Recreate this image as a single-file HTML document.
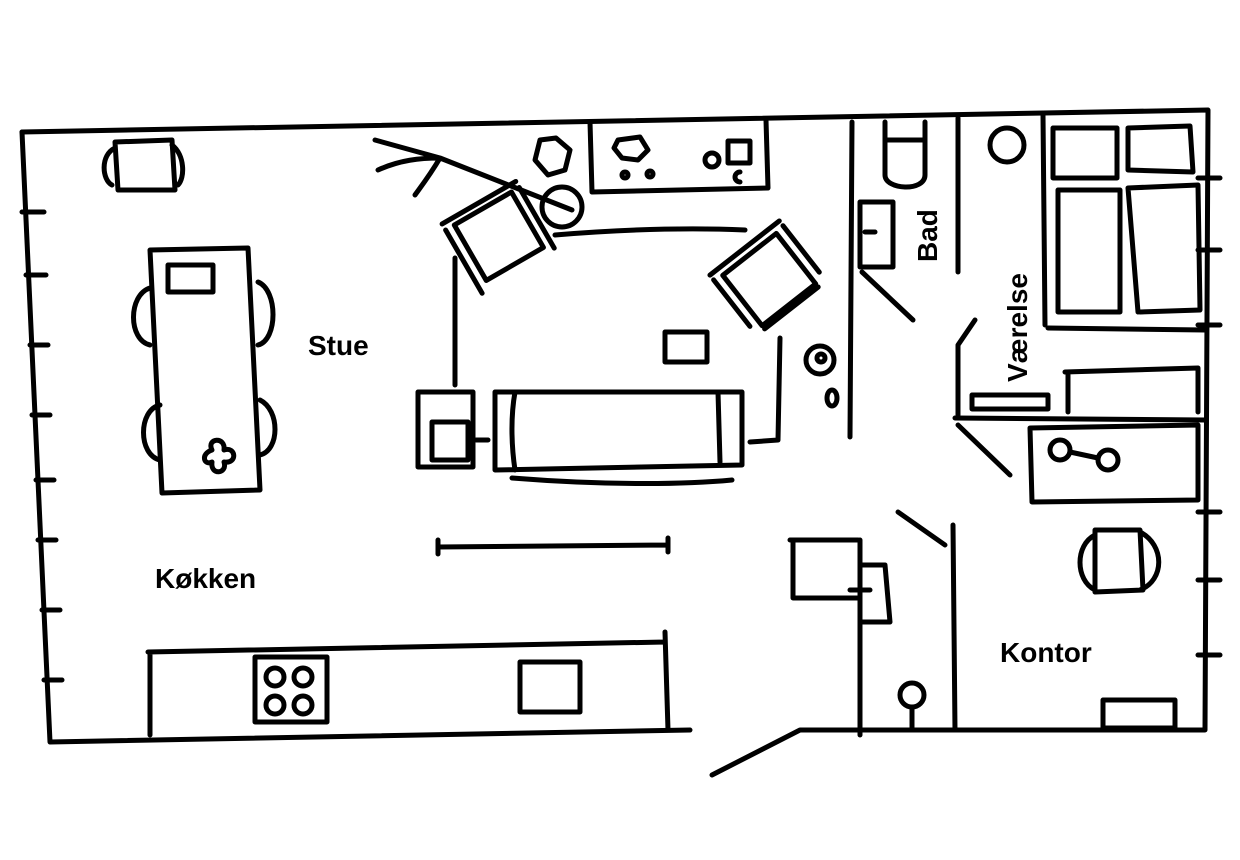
<!DOCTYPE html>
<html><head><meta charset="utf-8"><style>
body{margin:0;background:#fff}
svg{display:block}
text{font-family:"Liberation Sans",sans-serif;font-weight:bold;font-size:28px;fill:#000}
</style></head><body>
<svg width="1240" height="860" viewBox="0 0 1240 860" xmlns="http://www.w3.org/2000/svg">
<g fill="none" stroke="#000" stroke-width="5" stroke-linecap="round" stroke-linejoin="round">
<path d="M22 132 L1208 110 L1205 730 L800 730 L712 775"/>
<path d="M22 132 L50 742 L690 730"/>
<path d="M22 212h22M26 275h20M30 345h18M32 415h18M36 480h18M38 540h18M42 610h18M44 680h18"/>
<path d="M1198 178h22M1198 250h22M1198 325h22M1198 512h22M1198 580h22M1198 655h22"/>
<path d="M852 122 L850 437"/>
<path d="M860 540 L860 735"/>
<path d="M958 118 L958 272"/>
<path d="M975 320 L958 345 L958 415 M955 418 L1205 420"/>
<path d="M958 425 L1010 475"/>
<path d="M953 525 L955 730"/>
<path d="M898 512 L945 545"/>
<path d="M862 272 L913 320"/>
<path d="M148 652 L665 642 M665 632 L668 730 M150 652 L150 735"/>
<rect x="255" y="657" width="72" height="65"/>
<circle cx="275" cy="677" r="9"/><circle cx="303" cy="677" r="9"/><circle cx="275" cy="705" r="9"/><circle cx="303" cy="705" r="9"/>
<rect x="520" y="662" width="60" height="50"/>
<path d="M150 250 L248 248 L260 490 L162 493 Z"/>
<rect x="168" y="265" width="45" height="27"/>
<path d="M150 288 C128 295 128 340 150 345 M258 282 C278 290 278 340 258 345 M160 405 C138 410 138 455 160 460 M260 400 C280 410 280 450 260 455"/>
<path d="M212 450 c-6 -12 14 -14 12 0 c12 -4 14 14 0 12 c4 12 -14 14 -12 0 c-8 4 -12 -8 0 -12"/>
<path d="M115 142 L172 140 L175 190 L118 190 Z M115 148 C100 155 102 180 112 185 M172 145 C185 155 185 178 178 185"/>
<path d="M438 547 L668 545 M438 540v14 M668 538v14"/>
<path d="M455 258 L455 385 M555 235 C640 228 700 228 745 230 M780 338 L778 440 L750 442"/>
<path d="M495 392 L742 392 L742 465 L495 470 Z M515 392 C510 420 512 450 515 470 M718 392 L720 462 M512 478 C600 485 680 485 732 480"/>
<rect x="418" y="392" width="55" height="75"/>
<rect x="432" y="422" width="36" height="38"/>
<path d="M476 440 H488"/>
<g transform="rotate(-30 497 235)"><rect x="465" y="205" width="66" height="64"/><path d="M455 198 H540 M540 205 V275 M455 205 V278"/></g>
<g transform="rotate(-38 768 278)"><rect x="734" y="248" width="68" height="64"/><path d="M724 240 H812 M734 316 H802 M724 246 V305 M812 246 V305"/></g>
<rect x="665" y="332" width="42" height="30"/>
<path d="M540 140 L556 138 L570 150 L565 170 L548 175 L535 160 Z"/>
<circle cx="562" cy="207" r="20"/>
<path d="M375 140 L440 158 L572 210 M378 170 C400 160 420 158 440 158 M440 158 C430 175 420 188 415 195"/>
<path d="M590 122 L592 192 L768 188 L766 120"/>
<path d="M618 140 L640 137 L648 150 L638 160 L622 158 L614 148 Z"/>
<circle cx="625" cy="175" r="3"/><circle cx="650" cy="174" r="3"/>
<circle cx="712" cy="160" r="7"/><rect x="728" y="141" width="22" height="22"/><path d="M740 172 a5 5 0 1 0 0 10"/>
<circle cx="820" cy="360" r="14"/><circle cx="821" cy="358" r="4"/>
<ellipse cx="832" cy="398" rx="5" ry="8"/>
<path d="M885 122 L885 175 C885 190 925 192 925 175 L925 122 M885 140 H925"/>
<rect x="860" y="202" width="33" height="65"/><path d="M865 232h10"/>
<circle cx="1007" cy="145" r="17"/>
<path d="M1043 115 L1045 325 M1048 328 L1205 330"/>
<rect x="1053" y="128" width="64" height="50"/>
<path d="M1128 128 L1190 126 L1193 172 L1128 170 Z"/>
<rect x="1058" y="190" width="62" height="122"/>
<path d="M1128 188 L1198 185 L1200 310 L1140 312 M1128 188 L1138 312"/>
<path d="M1065 372 L1198 368 L1198 412 M1068 372 V412"/>
<rect x="972" y="395" width="76" height="14"/>
<path d="M1030 428 L1198 425 L1198 500 L1032 502 Z"/>
<circle cx="1060" cy="450" r="10"/><circle cx="1108" cy="460" r="10"/><path d="M1070 452 L1098 458"/>
<path d="M1095 530 L1140 530 L1143 590 L1095 592 Z M1095 535 C1075 545 1075 580 1095 590 M1140 532 C1165 545 1165 580 1140 590"/>
<rect x="1103" y="700" width="72" height="28"/>
<path d="M790 540 H858 M793 540 V598 L860 598"/>
<path d="M860 565 H885 L890 622 H860 M850 590 H870"/>
<circle cx="912" cy="695" r="12"/><path d="M912 707 V730"/>
</g>
<text x="308" y="355">Stue</text>
<text x="155" y="588">Køkken</text>
<text x="1000" y="662">Kontor</text>
<text transform="translate(937 262) rotate(-90)">Bad</text>
<text transform="translate(1027 382) rotate(-90)">Værelse</text>
</svg>
</body></html>
